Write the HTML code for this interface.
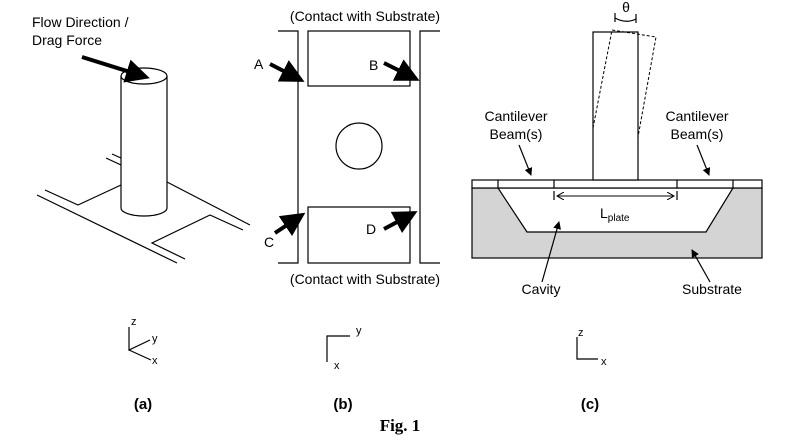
<!DOCTYPE html>
<html><head><style>body{margin:0;background:#fff}svg{display:block}</style></head><body>
<svg width="800" height="441" viewBox="0 0 800 441" xmlns="http://www.w3.org/2000/svg" font-family="Liberation Sans, sans-serif">
<defs>
<marker id="big" markerWidth="6" markerHeight="6" refX="5" refY="3" orient="auto" markerUnits="strokeWidth"><path d="M0,0 L6,3 L0,6 z" fill="#000"/></marker>
<marker id="sm" markerWidth="8" markerHeight="8" refX="7" refY="4" orient="auto" markerUnits="userSpaceOnUse"><path d="M0,0 L8,4 L0,8 z" fill="#000"/></marker>
<marker id="op" markerWidth="8" markerHeight="8" refX="7" refY="4" orient="auto-start-reverse" markerUnits="userSpaceOnUse"><path d="M0,0 L7,4 L0,8" fill="none" stroke="#000"/></marker>
</defs>
<g stroke="#000" stroke-width="1.2" fill="none">
<!-- panel a -->
<path d="M45,190 L78,205 L121,185"/>
<path d="M37,195 L177,263"/>
<path d="M167,182 L250,225"/>
<path d="M243,230 L210,215 L152,243 L185,259"/>
<path d="M106,158 L121,165 M112,154 L121,158"/>
<path d="M121,76 L121,208 A23,8 0 0 0 167,208 L167,76" fill="#fff"/>
<ellipse cx="144" cy="76" rx="23" ry="8" fill="#fff"/>
<line x1="82" y1="57" x2="146" y2="77" stroke-width="4" marker-end="url(#big)"/>
<!-- panel b -->
<path d="M278,31 H298 V263 H278"/>
<path d="M440,31 H420 V263 H440"/>
<rect x="308" y="31" width="102" height="55"/>
<rect x="308" y="207" width="102" height="56"/>
<circle cx="359" cy="146" r="23"/>
<line x1="270" y1="64" x2="301" y2="80" stroke-width="4" marker-end="url(#big)"/>
<line x1="384" y1="63" x2="416" y2="79" stroke-width="4" marker-end="url(#big)"/>
<line x1="275" y1="233" x2="302" y2="215" stroke-width="4" marker-end="url(#big)"/>
<line x1="384" y1="229" x2="414" y2="213" stroke-width="4" marker-end="url(#big)"/>
<!-- panel c -->
<rect x="472" y="188" width="290" height="70" fill="#d4d4d4"/>
<polygon points="498,188 733,188 706,232 527,232" fill="#fff"/>
<rect x="472" y="180" width="290" height="8" fill="#fff"/>
<path d="M498,180 V188 M554,180 V188 M677,180 V188 M733,180 V188"/>
<rect x="593" y="32" width="45" height="148" fill="#fff"/>
<path d="M593,128 L612,30 L656,37 L638,137" stroke-dasharray="3,2" stroke-width="1"/>
<path d="M615,13 V22 M636,14 V23"/>
<path d="M615,18 Q626,24 636,19"/>
<path d="M554,191 V200 M677,191 V200"/>
<line x1="557" y1="196" x2="674" y2="196" marker-start="url(#op)" marker-end="url(#op)" stroke-width="1"/>
<line x1="519" y1="145" x2="531" y2="175" marker-end="url(#sm)"/>
<line x1="697" y1="145" x2="709" y2="175" marker-end="url(#sm)"/>
<line x1="542" y1="282" x2="559" y2="222" marker-end="url(#sm)"/>
<line x1="710" y1="282" x2="692" y2="250" marker-end="url(#sm)"/>
<!-- axes -->
<path d="M129,327 V350 L150,340 M129,350 L151,360"/>
<path d="M327,362 V336 H350"/>
<path d="M577,337 V359 H598"/>
</g>
<g font-size="14" fill="#000">
<text x="32" y="27">Flow Direction /</text>
<text x="32" y="45">Drag Force</text>
<text x="365" y="21" text-anchor="middle">(Contact with Substrate)</text>
<text x="365" y="284" text-anchor="middle">(Contact with Substrate)</text>
<text x="254" y="69">A</text>
<text x="369" y="70">B</text>
<text x="264" y="247">C</text>
<text x="366" y="234">D</text>
<text x="626" y="12" text-anchor="middle">θ</text>
<text x="516" y="121" text-anchor="middle">Cantilever</text>
<text x="516" y="139" text-anchor="middle">Beam(s)</text>
<text x="697" y="121" text-anchor="middle">Cantilever</text>
<text x="697" y="139" text-anchor="middle">Beam(s)</text>
<text x="600" y="218">L<tspan font-size="10" dy="3">plate</tspan></text>
<text x="541" y="294" text-anchor="middle">Cavity</text>
<text x="712" y="294" text-anchor="middle">Substrate</text>
</g>
<g font-size="11" fill="#000">
<text x="131" y="325">z</text><text x="152" y="342">y</text><text x="152" y="364">x</text>
<text x="356" y="334">y</text><text x="334" y="369">x</text>
<text x="578" y="336">z</text><text x="601" y="365">x</text>
</g>
<g font-size="15" font-weight="bold" text-anchor="middle" fill="#000">
<text x="143" y="409">(a)</text>
<text x="343" y="409">(b)</text>
<text x="590" y="409">(c)</text>
<text x="400" y="431" font-size="17" font-family="Liberation Serif, serif">Fig. 1</text>
</g>
</svg>
</body></html>
